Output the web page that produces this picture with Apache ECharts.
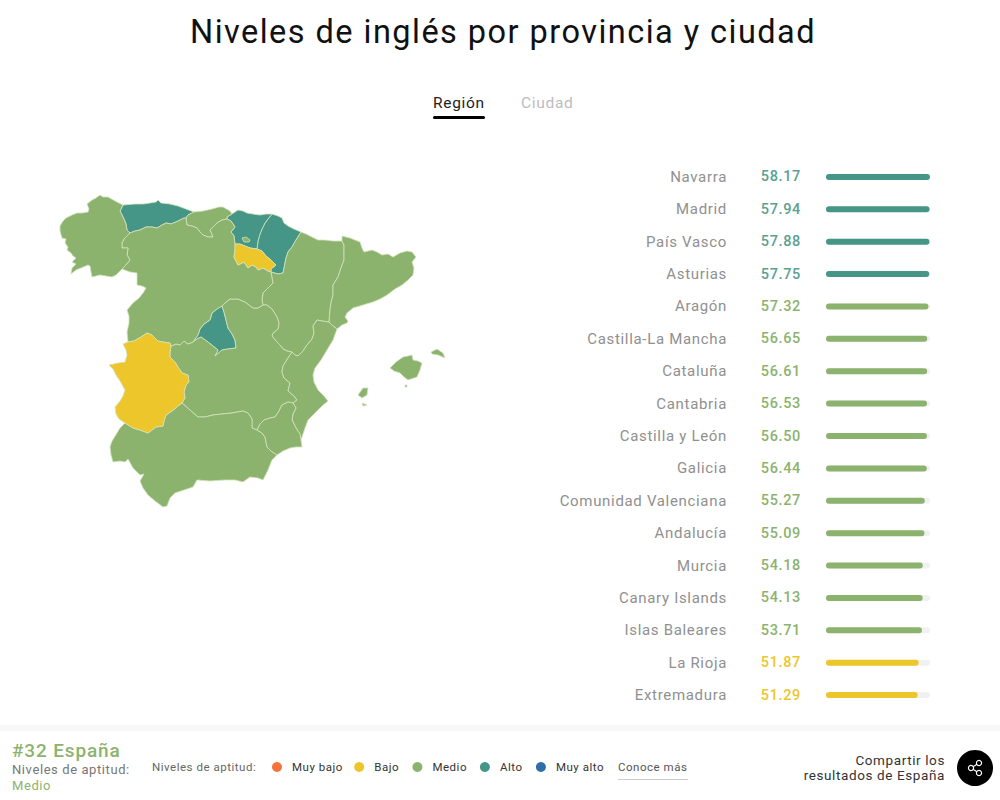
<!DOCTYPE html>
<html lang="es">
<head>
<meta charset="utf-8">
<title>Niveles de inglés por provincia y ciudad</title>
<script src="https://cdn.jsdelivr.net/npm/echarts@6/dist/echarts.min.js"></script>
<style>
html,body{margin:0;padding:0;background:#fff}
#c{width:1000px;height:800px}
svg text{letter-spacing:.045em}
</style>
</head>
<body>
<div id="c"></div>
<script>
// ---------- data ----------
const regions = ['Navarra','Madrid','País Vasco','Asturias','Aragón','Castilla-La Mancha','Cataluña','Cantabria','Castilla y León','Galicia','Comunidad Valenciana','Andalucía','Murcia','Canary Islands','Islas Baleares','La Rioja','Extremadura'];
const scores = [58.17,57.94,57.88,57.75,57.32,56.65,56.61,56.53,56.50,56.44,55.27,55.09,54.18,54.13,53.71,51.87,51.29];
const levels = ['Alto','Alto','Alto','Alto','Medio','Medio','Medio','Medio','Medio','Medio','Medio','Medio','Medio','Medio','Medio','Bajo','Bajo'];
const levelNames = ['Muy bajo','Bajo','Medio','Alto','Muy alto'];
const levelColors = ['#f4743b','#edc62b','#8cb36e','#459687','#2f6fa7'];
const valueColors = ['#f4743b','#edc62b','#8cb36e','#5ba192','#2f6fa7'];

// ---------- map outline (shared borders) ----------
const B = {
 galCoast:[[123,205],[115,201],[108,197],[103,197],[100,195],[96,198],[92,200],[87,204],[89,209],[88,212],[82,213],[77,213],[72,215],[66,218],[63,221],[60,226],[60,231],[62,238],[66,239],[65,243],[68,247],[67,250],[71,253],[73,256],[76,258],[72,262],[76,264],[72,268],[71,274],[76,270],[81,268],[88,265],[90,266],[91,272],[92,277],[96,276],[100,275],[106,276],[112,277],[116,275],[120,271],[122,269]],
 galCyl:[[122,269],[125,266],[130,260],[127,255],[128,248],[122,248],[122,243],[124,239],[130,233]],
 galAst:[[130,233],[127,230],[126,224],[124,219],[120,211],[123,205]],
 astCoast:[[123,205],[135,204],[143,204],[150,203],[156,202],[158,200],[161,203],[170,204],[178,206],[186,209],[194,212]],
 astCyl:[[130,233],[135,231],[140,230],[146,227],[152,227],[157,228],[162,225],[166,223],[171,224],[178,221],[184,218],[186,218]],
 astCan:[[186,218],[188,215],[194,212]],
 canCoast:[[194,212],[203,211],[212,209],[219,207],[223,207],[230,211],[232,214]],
 canPv:[[232,214],[227,217],[227,219]],
 cantCyl:[[186,218],[187,225],[192,226],[197,228],[200,232],[203,235],[208,237],[213,237],[211,232],[210,230],[214,226],[217,223],[222,220],[227,219]],
 pvCyl:[[227,219],[231,221],[235,227],[231,232],[234,236],[235,244]],
 pvCoast:[[232,214],[238,210],[243,211],[247,213],[253,214],[260,215],[266,214],[272,214]],
 pvNav:[[272,214],[268,219],[265,223],[262,229],[260,234],[258,241],[257,249]],
 pvRio:[[235,244],[240,244],[245,246],[250,248],[257,249]],
 rioCyl:[[235,244],[235,250],[234,257],[238,265],[242,263],[244,262],[248,268],[252,265],[256,267],[258,270],[263,268],[268,271],[271,272]],
 rioNav:[[257,249],[262,251],[266,256],[271,260],[276,265],[271,269],[271,272]],
 navCoast:[[272,214],[278,216],[282,218],[284,223],[288,226],[294,229],[301,232]],
 navAra:[[301,232],[296,240],[292,247],[288,252],[286,258],[285,263],[284,268],[283,273],[278,274],[271,272]],
 cylAra:[[271,272],[272,278],[273,283],[268,288],[263,293],[262,300],[263,305]],
 cylClm:[[263,305],[258,308],[253,308],[249,305],[245,302],[238,299],[230,299],[225,303],[222,306]],
 madCyl:[[222,306],[217,309],[212,313],[210,320],[204,324],[200,329],[198,335],[193,342]],
 madClm:[[222,306],[224,312],[226,320],[228,328],[232,334],[235,340],[236,348],[228,349],[222,350],[215,356],[218,350],[213,346],[208,342],[201,337],[197,339],[193,342]],
 clmCyl:[[193,342],[188,344],[184,341],[180,345],[176,344],[171,346]],
 extCyl:[[171,346],[170,343],[163,342],[158,341],[152,335],[147,333],[141,337],[134,341],[128,342]],
 cylPort:[[122,269],[130,272],[137,273],[137,280],[137,285],[142,286],[146,288],[143,293],[139,298],[133,303],[127,310],[129,316],[129,323],[127,332],[128,342]],
 extWest:[[128,342],[123,344],[126,350],[127,355],[125,362],[118,363],[109,365],[113,369],[116,375],[120,381],[125,390],[123,396],[120,401],[115,407],[116,414],[119,419],[125,423]],
 extAnd:[[125,423],[133,428],[140,430],[148,433],[152,430],[156,427],[163,426],[164,421],[166,415],[172,411],[178,406],[182,403]],
 extClm:[[171,346],[170,352],[170,357],[175,362],[178,367],[182,373],[188,375],[189,382],[186,385],[184,392],[185,398],[182,403]],
 andClm:[[182,403],[190,410],[198,417],[205,417],[213,415],[222,414],[232,413],[243,411],[248,413],[252,419],[252,428],[257,430]],
 andCoast:[[125,423],[120,428],[117,433],[112,441],[110,447],[111,455],[113,462],[120,461],[125,462],[128,459],[133,468],[140,475],[144,474],[140,481],[143,488],[148,495],[155,501],[163,507],[167,506],[170,498],[175,493],[184,490],[190,488],[193,487],[197,480],[210,481],[225,480],[235,480],[243,482],[250,477],[258,478],[263,480],[268,470],[272,460],[277,455]],
 andMur:[[277,455],[271,451],[267,447],[265,437],[262,433],[257,430]],
 murClm:[[257,430],[260,424],[264,420],[270,418],[275,417],[279,411],[282,405],[288,402],[293,403]],
 murVal:[[293,403],[296,408],[293,414],[292,420],[296,428],[300,434],[301,440]],
 murCoast:[[301,440],[302,447],[296,447],[290,448],[283,451],[277,455]],
 valClm:[[292,352],[288,358],[283,366],[282,372],[284,378],[290,383],[288,391],[294,396],[297,400],[293,403]],
 valAra:[[329,322],[322,321],[317,320],[313,326],[314,333],[312,339],[307,345],[303,351],[298,356],[295,355],[292,352]],
 catVal:[[329,322],[333,326],[337,329]],
 valCoast:[[337,329],[333,340],[327,350],[321,360],[315,368],[313,375],[314,382],[318,390],[324,396],[328,401],[322,406],[316,412],[308,420],[305,428],[301,440]],
 araCat:[[342,241],[344,245],[344,252],[344,260],[341,268],[338,277],[333,285],[333,295],[331,303],[330,310],[329,322]],
 araCoast:[[301,232],[306,234],[312,237],[318,240],[325,240],[333,241],[342,241]],
 catCoast:[[342,241],[342,236],[350,238],[355,240],[360,242],[362,248],[364,252],[372,250],[377,252],[382,255],[388,254],[393,257],[400,253],[407,251],[412,252],[416,257],[412,262],[414,268],[413,275],[408,280],[402,285],[395,289],[387,295],[380,299],[373,302],[363,305],[353,308],[347,313],[345,317],[348,321],[347,323],[342,325],[337,329]],
 araClm:[[263,305],[267,305],[272,309],[277,317],[279,323],[278,329],[273,333],[272,336],[276,341],[280,345],[283,349],[287,351],[292,352]]
};
const trevino = [[242,238],[246,237],[250,240],[249,242],[244,242]];
const mallorca = [[390,368],[396,362],[403,357],[408,356],[412,355],[413,360],[418,361],[422,363],[420,370],[417,377],[408,380],[404,377],[400,373],[394,371]];
const menorca = [[431,352],[437,349],[443,353],[445,358],[438,355],[432,354]];
const ibiza = [[358,395],[363,388],[368,388],[367,395],[362,398]];
const formentera = [[362,403],[367,405],[363,406]];
const cabrera = [[405,385],[407,385],[407,387],[405,387]];

const regionRings = {
 'Galicia':['galCoast','galCyl','galAst'],
 'Asturias':['astCoast','-astCan','-astCyl','galAst'],
 'Cantabria':['canCoast','canPv','-cantCyl','astCan'],
 'País Vasco':['pvCoast','pvNav','-pvRio','-pvCyl','-canPv'],
 'Navarra':['navCoast','navAra','-rioNav','-pvNav'],
 'La Rioja':['pvRio','rioNav','-rioCyl'],
 'Castilla y León':['-galCyl','cylPort','-extCyl','-clmCyl','-madCyl','-cylClm','-cylAra','-rioCyl','-pvCyl','-cantCyl','-astCyl'],
 'Aragón':['araCoast','araCat','valAra','-araClm','-cylAra','-navAra'],
 'Cataluña':['catCoast','-catVal','-araCat'],
 'Comunidad Valenciana':['catVal','valCoast','-murVal','-valClm','-valAra'],
 'Murcia':['murCoast','andMur','murClm','murVal'],
 'Andalucía':['andCoast','andMur','-andClm','-extAnd'],
 'Extremadura':['extWest','extAnd','-extClm','extCyl'],
 'Madrid':['madClm','-madCyl'],
 'Castilla-La Mancha':['cylClm','madClm','clmCyl','extClm','andClm','murClm','-valClm','-araClm']
};
const extraParts = {
 'Castilla y León':[trevino],
 'Islas Baleares':[mallorca,menorca,ibiza,formentera,cabrera]
};

function flip(p){return [p[0],-p[1]];}
function closed(pts){const r=pts.map(flip);r.push(r[0].slice());return r;}
function ring(names){
  let pts=[];
  names.forEach(n=>{
    const rev=n[0]==='-';
    const chain=B[rev?n.slice(1):n];
    const seq=rev?chain.slice().reverse():chain;
    pts=pts.concat(pts.length?seq.slice(1):seq);
  });
  return closed(pts);
}
const features = regions.filter(n=>regionRings[n]||extraParts[n]).map(n=>{
  const polys=[];
  if(regionRings[n]) polys.push([ring(regionRings[n])]);
  (extraParts[n]||[]).forEach(p=>polys.push([closed(p)]));
  return {type:'Feature',properties:{name:n},geometry:{type:'MultiPolygon',coordinates:polys}};
});
echarts.registerMap('espana',{type:'FeatureCollection',features});

// bounding box of the outline gives the map's box on the page
const allPts = Object.values(B).flat().concat(mallorca,menorca,ibiza,formentera);
const xs = allPts.map(p=>p[0]), ys = allPts.map(p=>p[1]);
const mapBox = {left:Math.min(...xs),top:Math.min(...ys),width:Math.max(...xs)-Math.min(...xs),height:Math.max(...ys)-Math.min(...ys)};

const colorOf = l => levelColors[levelNames.indexOf(l)];
const valueColorOf = l => valueColors[levelNames.indexOf(l)];
const FONT = 'Roboto';

const chart = echarts.init(document.getElementById('c'),null,{renderer:'svg'});
chart.setOption({
  animation:false,
  backgroundColor:'#fff',
  textStyle:{fontFamily:FONT},
  title:{
    text:'Niveles de inglés por provincia y ciudad',
    left:498,top:10,textAlign:'center',
    textStyle:{fontFamily:FONT,fontSize:32.5,fontWeight:400,color:'#111'}
  },
  legend:{
    left:267,top:756,itemWidth:10,itemHeight:10,itemGap:15.5,
    icon:'circle',selectedMode:false,
    data:levelNames,
    textStyle:{fontFamily:FONT,fontSize:11.5,color:'#333',padding:[0,0,0,5]}
  },
  grid:{left:826,top:160.8,width:104,height:550.4,containLabel:false},
  xAxis:{type:'value',min:0,max:58.2,show:false},
  yAxis:[
    {type:'category',inverse:true,data:regions,
      axisLine:{show:false},axisTick:{show:false},splitLine:{show:false},
      axisLabel:{margin:99,fontFamily:FONT,fontSize:15,color:'#909090',padding:[3,0,0,0]}},
    {type:'category',inverse:true,position:'left',data:scores.map(v=>v.toFixed(2)),
      axisLine:{show:false},axisTick:{show:false},splitLine:{show:false},
      axisLabel:{margin:25,fontFamily:FONT,fontSize:14.5,fontWeight:500,
        color:(v,i)=>valueColorOf(levels[i])}}
  ],
  series:[
    {name:'Regiones',type:'map',map:'espana',roam:false,silent:true,selectedMode:false,
      showLegendSymbol:false,
      aspectScale:1,left:mapBox.left,top:mapBox.top,width:mapBox.width,height:mapBox.height,
      label:{show:false},
      itemStyle:{areaColor:'#8cb36e',borderColor:'#d3e2bb',borderWidth:0.8},
      emphasis:{disabled:true},
      data:regions.map((n,i)=>({name:n,value:scores[i],itemStyle:{areaColor:colorOf(levels[i])}}))},
    {name:'Puntuación',type:'bar',yAxisIndex:0,barWidth:6,silent:true,
      showBackground:true,backgroundStyle:{color:'#f1f1f1',borderRadius:3},
      itemStyle:{borderRadius:3},
      data:scores.map((v,i)=>({value:v,itemStyle:{color:colorOf(levels[i])}}))},
    ...levelNames.map((n,i)=>({name:n,type:'scatter',data:[],itemStyle:{color:levelColors[i],opacity:1}}))
  ],
  graphic:[
    {type:'text',left:433,top:95,style:{text:'Región',font:'400 15.5px '+FONT,fill:'#222'}},
    {type:'rect',shape:{x:433,y:116,width:52,height:3,r:1.5},style:{fill:'#000'}},
    {type:'text',left:521,top:95,style:{text:'Ciudad',font:'400 15.5px '+FONT,fill:'#bcbcbc'}},
    {type:'rect',shape:{x:0,y:725,width:1000,height:6},style:{fill:'#f8f8f9'}},
    {type:'text',left:12,top:741,style:{text:'#32 España',font:'500 19px '+FONT,fill:'#8cb36e'}},
    {type:'text',left:12,top:763,style:{text:'Niveles de aptitud:',font:'400 13px '+FONT,fill:'#777'}},
    {type:'text',left:12,top:779,style:{text:'Medio',font:'400 13px '+FONT,fill:'#8cb36e'}},
    {type:'text',left:152,top:761,style:{text:'Niveles de aptitud:',font:'400 11.5px '+FONT,fill:'#666'}},
    {type:'text',left:618,top:761,style:{text:'Conoce más',font:'400 11.5px '+FONT,fill:'#555'}},
    {type:'rect',shape:{x:618,y:779,width:70,height:1},style:{fill:'#ccc'}},
    {type:'text',x:945,y:753,style:{text:'Compartir los',font:'400 13.5px '+FONT,fill:'#333',align:'right'}},
    {type:'text',x:945,y:768,style:{text:'resultados de España',font:'400 13.5px '+FONT,fill:'#333',align:'right'}},
    {type:'circle',shape:{cx:975,cy:768,r:18},style:{fill:'#000'}},
    {type:'line',shape:{x1:971,y1:768,x2:979,y2:763},style:{stroke:'#fff',lineWidth:1.2}},
    {type:'line',shape:{x1:971,y1:768,x2:979,y2:773},style:{stroke:'#fff',lineWidth:1.2}},
    {type:'circle',shape:{cx:971,cy:768,r:2.6},style:{fill:'#000',stroke:'#fff',lineWidth:1.2}},
    {type:'circle',shape:{cx:979,cy:763,r:2.6},style:{fill:'#000',stroke:'#fff',lineWidth:1.2}},
    {type:'circle',shape:{cx:979,cy:773,r:2.6},style:{fill:'#000',stroke:'#fff',lineWidth:1.2}}
  ]
});
</script>
</body>
</html>
